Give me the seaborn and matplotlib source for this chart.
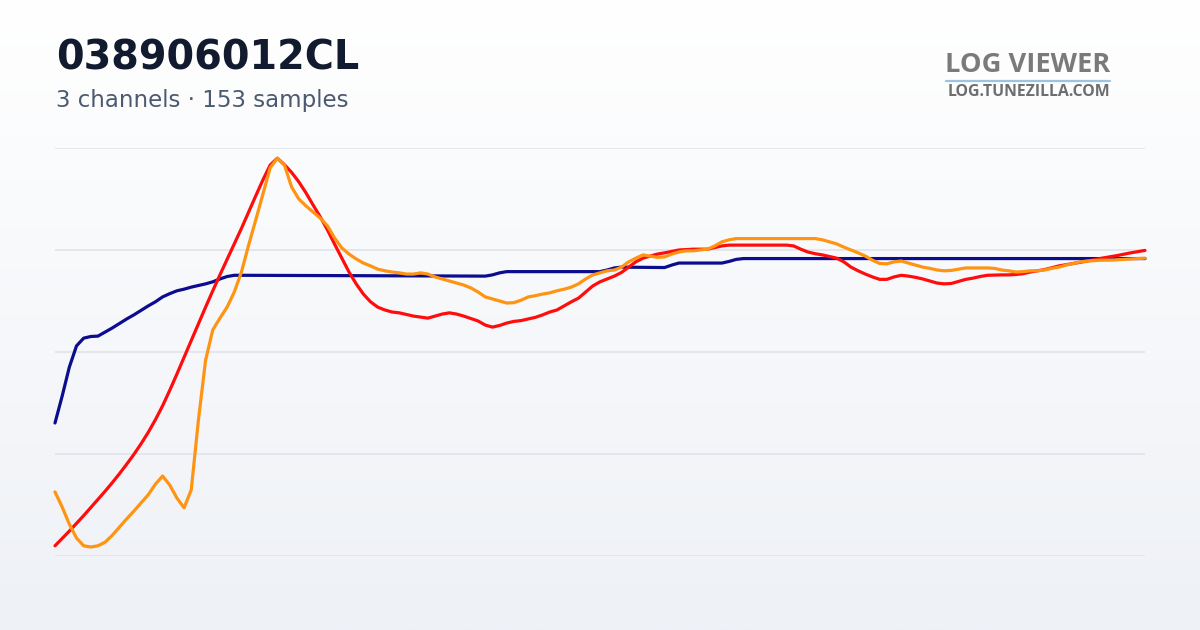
import numpy as np
import pandas as pd
import matplotlib
matplotlib.use("Agg")
import matplotlib.pyplot as plt
from matplotlib.colors import LinearSegmentedColormap
from matplotlib.lines import Line2D
import seaborn as sns

title = "038906012CL"
subtitle = "3 channels · 153 samples"
logo_main = "LOG VIEWER"
logo_sub = "LOG.TUNEZILLA.COM"

channels = ["blue", "red", "orange"]
channel_colors = ["#0c0c8f", "#ff0d0d", "#ff9412"]

blue_idx = [0, 1, 2, 3, 4, 5, 6, 7, 8, 9, 10, 11, 12, 13, 14, 15, 16, 17, 18, 19, 20, 21, 22, 23, 24, 25, 26,
            60, 61, 62, 63, 76, 77, 78, 79, 85, 86, 87, 93, 94, 95, 96, 152]
blue_val = [32.6, 39.2, 46.3, 51.5, 53.4, 53.8, 53.9, 54.9, 55.9, 57.0, 58.1, 59.1, 60.2, 61.3, 62.3, 63.5, 64.3,
            65.0, 65.4, 65.9, 66.3, 66.7, 67.2, 67.9, 68.5, 68.8, 68.8,
            68.6, 68.9, 69.4, 69.7, 69.7, 70.1, 70.6, 70.8, 70.7, 71.3, 71.8, 71.8, 72.2, 72.7, 72.9, 72.9]

red_idx = [0, 1, 2, 3, 4, 5, 6, 7, 8, 9, 10, 11, 12, 13, 14, 15, 16, 17, 18, 19, 20, 21, 22, 23, 24, 25, 26, 27,
           28, 29, 30, 31, 32, 33, 34, 35, 36, 37, 38, 39, 40, 41, 42, 43, 44, 45, 46, 47, 48, 50, 52, 53, 54, 55,
           56, 57, 58, 59, 60, 61, 62, 63, 64, 65, 66, 67, 68, 69, 70, 71, 72, 73, 74, 75, 76, 77, 78, 79, 80, 81,
           82, 83, 84, 85, 87, 89, 91, 92, 93, 94, 102, 103, 104, 105, 106, 107, 108, 109, 110, 111, 112, 113, 114,
           115, 116, 117, 118, 119, 120, 121, 122, 123, 124, 125, 126, 127, 128, 129, 130, 132, 133, 134, 135, 136,
           138, 140, 142, 144, 146, 148, 150, 152]
red_val = [2.5, 4.3, 6.1, 8.0, 9.9, 11.9, 13.9, 15.9, 18.0, 20.2, 22.5, 24.9, 27.5, 30.3, 33.4, 36.8, 40.6, 44.6,
           48.7, 52.8, 56.9, 61.0, 65.0, 68.9, 72.7, 76.5, 80.3, 84.3, 88.3, 92.2, 95.8, 97.5, 95.9, 94.0, 91.7,
           89.0, 86.0, 83.1, 79.9, 76.4, 73.0, 69.6, 66.7, 64.2, 62.3, 61.0, 60.3, 59.8, 59.6, 58.8, 58.3, 58.8,
           59.3, 59.6, 59.3, 58.8, 58.2, 57.6, 56.6, 56.1, 56.5, 57.1, 57.5, 57.7, 58.1, 58.5, 59.1, 59.8, 60.3,
           61.3, 62.3, 63.2, 64.7, 66.2, 67.2, 67.9, 68.6, 69.5, 70.8, 72.1, 73.0, 73.5, 74.0, 74.3, 75.0, 75.2,
           75.2, 75.6, 76.0, 76.2, 76.2, 76.0, 75.2, 74.5, 74.1, 73.8, 73.4, 73.0, 72.1, 70.8, 69.9, 69.1, 68.4,
           67.8, 67.8, 68.4, 68.8, 68.6, 68.3, 67.9, 67.4, 66.9, 66.7, 66.8, 67.3, 67.8, 68.1, 68.5, 68.8, 68.9,
           68.9, 69.0, 69.2, 69.6, 70.2, 71.1, 71.7, 72.3, 73.0, 73.6, 74.3, 74.9]

orange_idx = list(range(0, 96)) + list(range(106, 148)) + [152]
orange_val = [15.7, 12.0, 7.8, 4.4, 2.5, 2.2, 2.5, 3.4, 5.1, 7.1, 9.1, 11.0, 13.0, 15.0, 17.6, 19.6, 17.4, 14.2,
              11.8, 16.2, 33.3, 48.0, 55.4, 58.3, 61.0, 64.7, 69.6, 76.2, 82.4, 88.7, 95.1, 97.5, 95.8, 90.4,
              87.5, 85.8, 84.3, 82.8, 80.9, 77.9, 75.5, 74.0, 72.8, 71.8, 71.1, 70.3, 69.9, 69.6, 69.4, 69.1,
              69.1, 69.4, 69.1, 68.4, 67.9, 67.4, 66.9, 66.4, 65.7, 64.7, 63.5, 63.0, 62.5, 62.0, 62.1, 62.7,
              63.5, 63.8, 64.2, 64.5, 65.0, 65.4, 65.9, 66.7, 67.9, 68.9, 69.4, 69.9, 70.1, 70.8, 72.1, 73.0,
              73.8, 73.5, 73.2, 73.3, 74.0, 74.5, 74.8, 74.8, 75.0, 75.2, 76.0, 77.0, 77.5, 77.8,
              77.8, 77.5, 77.0, 76.5, 75.7, 75.0, 74.3, 73.5, 72.5, 71.7, 71.6, 72.1, 72.3, 71.8, 71.3, 70.8,
              70.5, 70.1, 69.9, 70.0, 70.3, 70.6, 70.6, 70.6, 70.6, 70.5, 70.1, 69.9, 69.6, 69.7, 69.9, 69.9,
              70.1, 70.5, 70.8, 71.3, 71.7, 72.1, 72.3, 72.4, 72.5, 72.5,
              73.0]

grid_values = [0, 25, 50, 75, 100]

frames = []
for name, idx, val in [("blue", blue_idx, blue_val), ("red", red_idx, red_val), ("orange", orange_idx, orange_val)]:
    frames.append(pd.DataFrame({"sample": idx, "value": val, "channel": name}))
df = pd.concat(frames, ignore_index=True)

sns.set_theme(style="white")
plt.rcParams['font.family'] = ['DejaVu Sans']

W, H = 1200, 630
fig = plt.figure(figsize=(W / 100, H / 100), dpi=100)

# background gradient
bg = fig.add_axes([0, 0, 1, 1], zorder=-10)
grad = np.linspace(0, 1, 256).reshape(-1, 1)
cmap = LinearSegmentedColormap.from_list("bg", ["#ffffff", "#eef1f6"])
bg.imshow(grad, aspect="auto", cmap=cmap, extent=[0, 1, 0, 1], origin="upper")
bg.axis("off")

ax = fig.add_axes([55 / W, (H - 556) / H, 1090 / W, 408 / H])
ax.patch.set_alpha(0)
sns.lineplot(data=df, x="sample", y="value", hue="channel", hue_order=channels,
             palette=dict(zip(channels, channel_colors)), sort=False, estimator=None,
             linewidth=2.3, legend=False, ax=ax)
for ln in ax.lines:
    ln.set_clip_on(False)
    ln.set_solid_joinstyle("round")
    ln.set_solid_capstyle("round")

ax.set_xlim(0, 152)
ax.set_ylim(0, 100)
ax.set_yticks(grid_values)
ax.set_xticks([])
ax.set_yticklabels([])
ax.set_xlabel("")
ax.set_ylabel("")
ax.grid(axis="y", color="#e2e5eb", linewidth=1.3)
ax.set_axisbelow(True)
ax.tick_params(left=False, bottom=False)
for s in ax.spines.values():
    s.set_visible(False)

def px(x, y):
    return x / W, 1 - y / H

t_title = fig.text(*px(56, 69), title, fontsize=29, fontweight="bold", color="#111a2e", va="baseline", ha="left")
t_sub = fig.text(*px(56, 107), subtitle, fontsize=16.4, color="#4b5a70", va="baseline", ha="left")
t_logo = fig.text(*px(1110, 72), logo_main, fontsize=18.5, fontweight="bold", color="#7a7a7a",
                  va="baseline", ha="right", family=["Open Sans", "DejaVu Sans"])
t_logo2 = fig.text(*px(1110, 96.5), logo_sub, fontsize=10.5, fontweight="bold", color="#6e6e6e",
                   va="baseline", ha="right", family=["Open Sans", "DejaVu Sans"])
fig.add_artist(Line2D([946 / W, 1110 / W], [1 - 80.5 / H, 1 - 80.5 / H], color="#9cc3e2", linewidth=1.6))

fig.canvas.draw()
r = fig.canvas.get_renderer()
for t, target in [(t_title, 303), (t_sub, 292), (t_logo, 166), (t_logo2, 166)]:
    w = t.get_window_extent(r).width
    t.set_fontsize(t.get_fontsize() * target / w)

fig.savefig("out.png", dpi=100)
